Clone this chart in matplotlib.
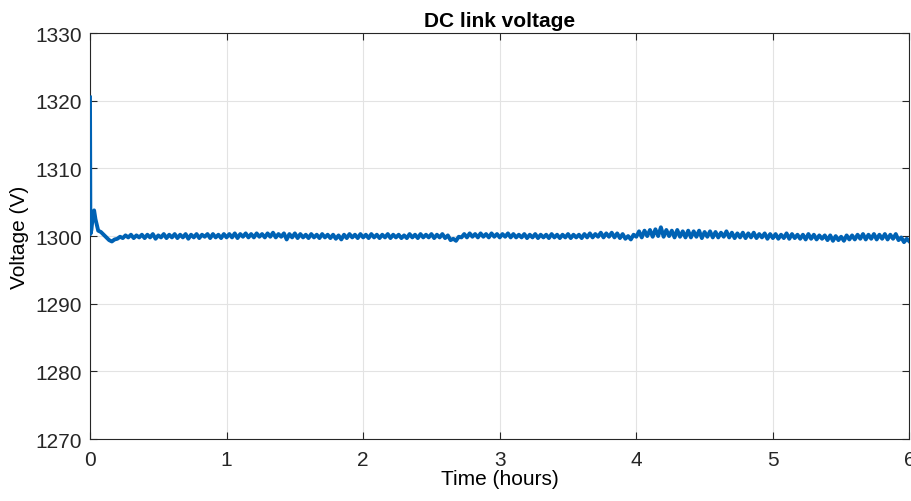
import numpy as np
import matplotlib
matplotlib.use("Agg")
import matplotlib.pyplot as plt

# start-up transient (hours, volts)
t_start = [0.0, 0.003, 0.01, 0.02, 0.03, 0.04, 0.06, 0.08, 0.10, 0.12, 0.14, 0.16, 0.18]
v_start = [1320.5, 1300.3, 1300.9, 1302.8, 1303.8, 1302.5, 1300.8, 1300.6,
           1300.2, 1299.8, 1299.4, 1299.2, 1299.5]

# steady part, read every 0.02 h from 0.20 h to 6.00 h
v_steady = [
    1299.6, 1299.9, 1299.7, 1300.1, 1299.8, 1300.2, 1299.7, 1300.1, 1299.8, 1300.2,
    1299.7, 1300.2, 1299.8, 1300.3, 1299.6, 1300.1, 1299.8, 1300.3, 1299.7, 1300.2,
    1299.8, 1300.3, 1299.7, 1300.2, 1299.8, 1300.3, 1299.6, 1300.2, 1299.8, 1300.3,
    1299.7, 1300.2, 1299.9, 1300.3, 1299.7, 1300.3, 1299.8, 1300.2, 1299.7, 1300.3,
    1299.8, 1300.3, 1299.8, 1300.4, 1299.7, 1300.3, 1299.9, 1300.4, 1299.8, 1300.3,
    1299.8, 1300.4, 1299.9, 1300.3, 1299.8, 1300.4, 1299.9, 1300.5, 1299.8, 1300.3,
    1299.9, 1300.4, 1299.5, 1300.3, 1299.8, 1300.4, 1299.7, 1300.3, 1299.8, 1300.2,
    1299.7, 1300.3, 1299.8, 1300.2, 1299.7, 1300.3, 1299.8, 1300.2, 1299.7, 1300.2,
    1299.6, 1300.1, 1299.5, 1300.2, 1299.7, 1300.3, 1299.8, 1300.2, 1299.7, 1300.3,
    1299.8, 1300.2, 1299.7, 1300.3, 1299.8, 1300.2, 1299.7, 1300.2, 1299.8, 1300.3,
    1299.7, 1300.2, 1299.8, 1300.2, 1299.7, 1300.1, 1299.7, 1300.3, 1299.8, 1300.2,
    1299.7, 1300.3, 1299.8, 1300.2, 1299.8, 1300.3, 1299.7, 1300.2, 1299.8, 1300.3,
    1299.7, 1300.1, 1299.4, 1299.6, 1299.3, 1299.9, 1299.8, 1300.3, 1299.8, 1300.4,
    1299.9, 1300.3, 1299.8, 1300.4, 1299.9, 1300.3, 1299.8, 1300.4, 1299.9, 1300.3,
    1299.8, 1300.3, 1299.9, 1300.4, 1299.8, 1300.3, 1299.8, 1300.2, 1299.8, 1300.3,
    1299.7, 1300.2, 1299.8, 1300.3, 1299.7, 1300.2, 1299.8, 1300.2, 1299.7, 1300.3,
    1299.8, 1300.2, 1299.7, 1300.2, 1299.8, 1300.3, 1299.7, 1300.2, 1299.8, 1300.2,
    1299.7, 1300.3, 1299.8, 1300.4, 1299.8, 1300.3, 1299.9, 1300.5, 1299.8, 1300.4,
    1299.9, 1300.5, 1299.8, 1300.4, 1299.7, 1300.3, 1299.6, 1300.0, 1299.5, 1300.2,
    1299.9, 1300.7, 1299.8, 1300.8, 1300.0, 1300.9, 1299.9, 1301.0, 1300.0, 1301.3,
    1299.9, 1300.9, 1300.0, 1300.8, 1299.8, 1300.9, 1299.9, 1300.7, 1299.8, 1300.8,
    1299.8, 1300.7, 1299.9, 1300.8, 1299.7, 1300.6, 1299.9, 1300.7, 1299.8, 1300.6,
    1299.8, 1300.5, 1299.9, 1300.7, 1299.8, 1300.5, 1299.7, 1300.4, 1299.8, 1300.5,
    1299.7, 1300.4, 1299.8, 1300.5, 1299.7, 1300.3, 1299.8, 1300.4, 1299.6, 1300.3,
    1299.7, 1300.3, 1299.6, 1300.2, 1299.7, 1300.4, 1299.6, 1300.3, 1299.7, 1300.2,
    1299.6, 1300.2, 1299.5, 1300.3, 1299.6, 1300.2, 1299.5, 1300.1, 1299.6, 1300.1,
    1299.4, 1300.1, 1299.3, 1300.0, 1299.4, 1299.9, 1299.3, 1300.1, 1299.5, 1300.1,
    1299.5, 1300.2, 1299.6, 1300.3, 1299.5, 1300.2, 1299.6, 1300.3, 1299.5, 1300.2,
    1299.6, 1300.3, 1299.5, 1300.2, 1299.6, 1300.3, 1299.4, 1299.8, 1299.1, 1299.6,
    1299.2,
]
t_steady = np.linspace(0.2, 6.0, len(v_steady))

t = np.concatenate([t_start, t_steady])
v = np.concatenate([v_start, v_steady])

plt.rcParams['font.family'] = ['Liberation Sans', 'DejaVu Sans']

fig = plt.figure(figsize=(9.11, 5.02), dpi=100)
ax = fig.add_axes([0.0988, 0.1235, 0.8995, 0.8085])

ax.plot(t, v, color='#0062b4', linewidth=2.8, zorder=3)

ax.set_xlim(0, 6)
ax.set_ylim(1270, 1330)
ax.set_xticks(range(0, 7))
ax.set_yticks(range(1270, 1331, 10))
ax.grid(True, color='#e3e3e3', linewidth=0.8)
ax.set_axisbelow(True)
ax.tick_params(direction='in', length=5, width=0.8, labelsize=15, colors='#262626',
               top=True, right=True)
ax.tick_params(axis='x', pad=8)
ax.tick_params(axis='y', pad=6)
for s in ax.spines.values():
    s.set_color('#262626')
    s.set_linewidth(0.8)

ax.set_title('DC link voltage', fontsize=15, fontweight='bold', pad=5)
ax.set_xlabel('Time (hours)', fontsize=15, labelpad=0)
ax.set_ylabel('Voltage (V)', fontsize=15, labelpad=4)

fig.savefig('out.png', dpi=100)
